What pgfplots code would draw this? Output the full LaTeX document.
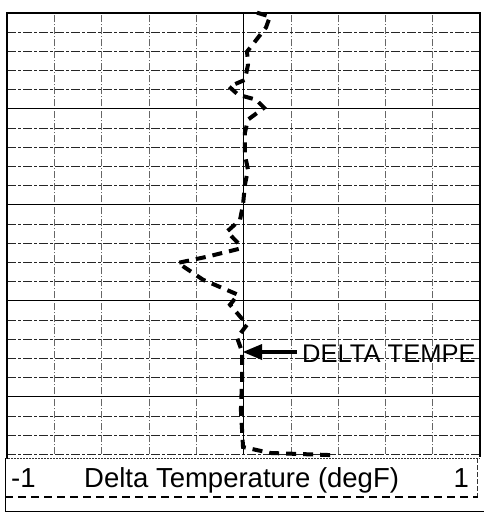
\documentclass[border=0pt]{standalone}
\usepackage{pgfplots}
\pgfplotsset{compat=1.18}
\usepackage{fontspec}
\setmainfont{Liberation Sans}
\begin{document}
\begin{tikzpicture}
\useasboundingbox (0,0) rectangle (484pt,-518pt);
\begin{axis}[
  at={(7pt,-454.3pt)}, anchor=south west,
  scale only axis, width=473pt, height=441.6pt,
  xmin=-1, xmax=1, ymin=0, ymax=23,
  xtick={-1,-0.8,-0.6,-0.4,-0.2,0.2,0.4,0.6,0.8,1},
  ytick={0,1,2,4,5,6,7,9,10,11,12,14,15,16,17,19,20,21,22,23},
  xticklabels={}, yticklabels={},
  major tick length=0pt,
  grid=major,
  major x grid style={black!60, line width=0.6pt, dash pattern=on 7pt off 2pt on 1pt off 2pt},
  major y grid style={black!85, line width=0.7pt, dash pattern=on 9pt off 2pt on 3pt off 2pt},
  extra x ticks={0}, extra x tick labels={},
  extra x tick style={major x grid style={black, line width=1.5pt, solid}},
  extra y ticks={3,8,13,18}, extra y tick labels={},
  extra y tick style={major y grid style={black, line width=1.1pt, solid}},
  axis line style={draw=none},
  clip=false,
]
\draw[black, line width=2pt] (rel axis cs:0,-0.01) -- (rel axis cs:0,1) -- (rel axis cs:1,1) -- (rel axis cs:1,-0.005);
\addplot[black, line width=4pt, dash pattern=on 10pt off 7pt] coordinates {
(0.057,23.0) (0.112,22.8) (0.095,22.23) (0.015,20.97) (0.019,20.29)
(0.006,19.5) (-0.061,19.15) (-0.023,18.73) (0.053,18.47) (0.087,18.05)
(0.019,17.43) (0.006,16.75) (0.006,15.6) (0.019,14.82) (0.006,14.04)
(-0.002,13.0) (-0.015,12.2) (-0.07,11.6) (-0.015,10.9) (-0.019,10.7)
(-0.154,10.29) (-0.277,9.97) (-0.171,9.09) (-0.023,8.31) (-0.057,7.79)
(0.015,6.75) (-0.027,6.07) (-0.006,5.34) (-0.006,3.88) (-0.011,2.31)
(-0.002,0.38) (0.112,0.07) (0.387,-0.05)
};
\end{axis}
% annotation
\draw[black, line width=3.5pt] (297pt,-352pt) -- (258pt,-352pt);
\fill[black] (243pt,-352pt) -- (262pt,-344pt) -- (262pt,-360pt) -- cycle;
\node[anchor=base west, inner sep=0pt, font=\fontsize{25.5}{30}\selectfont] at (302pt,-362pt) {DELTA TEMPE};
% header box
\draw[black!80, line width=0.8pt, dash pattern=on 2pt off 1pt] (5pt,-458.5pt) -- (480pt,-458.5pt);
\draw[black, line width=0.8pt] (5pt,-458pt) -- (5pt,-511pt) -- (484pt,-511pt);
\draw[black!80, line width=0.8pt, dash pattern=on 5pt off 2pt] (477pt,-458pt) -- (477pt,-497pt);
\draw[black, line width=2pt, dash pattern=on 8pt off 5pt] (5pt,-497pt) -- (478pt,-497pt);
\node[anchor=base west, inner sep=0pt, font=\fontsize{27.5}{30}\selectfont] at (11pt,-487pt) {-1};
\node[anchor=base west, inner sep=0pt, font=\fontsize{27.5}{30}\selectfont] at (84pt,-487pt) {Delta Temperature (degF)};
\node[anchor=base east, inner sep=0pt, font=\fontsize{27.5}{30}\selectfont] at (469pt,-487pt) {1};
\end{tikzpicture}
\end{document}
